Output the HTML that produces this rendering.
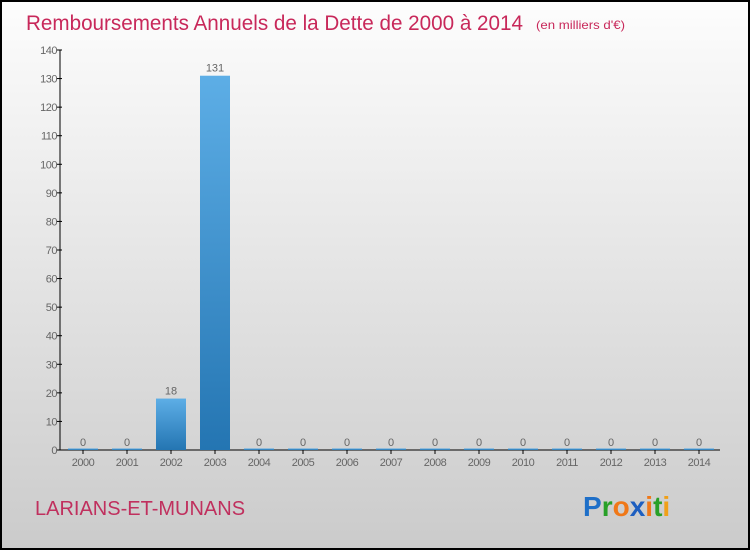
<!DOCTYPE html>
<html><head><meta charset="utf-8">
<style>
html,body{margin:0;padding:0;}
body{width:750px;height:550px;overflow:hidden;font-family:"Liberation Sans",sans-serif;}
</style></head>
<body>
<svg id="chart" width="750" height="550" xmlns="http://www.w3.org/2000/svg">
<defs>
<linearGradient id="bg" x1="0" y1="0" x2="0" y2="1">
<stop offset="0" stop-color="#fdfdfd"/><stop offset="1" stop-color="#cbcbcb"/>
</linearGradient>
<linearGradient id="bar" x1="0" y1="0" x2="0" y2="1">
<stop offset="0" stop-color="#5daee6"/><stop offset="1" stop-color="#2475b2"/>
</linearGradient>
</defs>
<rect x="1" y="1" width="748" height="548" fill="url(#bg)" stroke="#000" stroke-width="2"/>
<text x="26" y="30" font-size="21" fill="#c8285a" textLength="497" lengthAdjust="spacingAndGlyphs">Remboursements Annuels de la Dette de 2000 à 2014</text>
<text x="536" y="29" font-size="12" fill="#c8285a" textLength="89" lengthAdjust="spacingAndGlyphs">(en milliers d'€)</text>
<text x="35" y="515" font-size="20" fill="#c0305e">LARIANS-ET-MUNANS</text>
<text x="583" y="516" font-size="28" font-weight="bold"><tspan fill="#1e6fc8">P</tspan><tspan fill="#28a028">r</tspan><tspan fill="#f07818">o</tspan><tspan fill="#1e5fc0">x</tspan><tspan fill="#f07818">i</tspan><tspan fill="#28a028">t</tspan><tspan fill="#f0a018">i</tspan></text>
<g id="plot"></g>
</svg>
<script>
const categories=["2000","2001","2002","2003","2004","2005","2006","2007","2008","2009","2010","2011","2012","2013","2014"];
const values=[0,0,18,131,0,0,0,0,0,0,0,0,0,0,0];
const yTicks=[0,10,20,30,40,50,60,70,80,90,100,110,120,130,140];
const NS="http://www.w3.org/2000/svg";
const g=document.getElementById('plot');
function y(v){return 450-v*400/140;}
function x(i){return 83+i*44;}
function mk(tag,attrs,txt){const e=document.createElementNS(NS,tag);for(const k in attrs)e.setAttribute(k,attrs[k]);if(txt!==undefined)e.textContent=txt;g.appendChild(e);return e;}
let ax=mk('line',{x1:60,y1:450,x2:720,y2:450,stroke:'#000','stroke-width':1});


let ay=mk('line',{x1:60,y1:50,x2:60,y2:450,stroke:'#000','stroke-width':1});


yTicks.forEach(t=>{
 let tk=mk('line',{x1:57,y1:y(t),x2:62,y2:y(t),stroke:'#000'});
 
 
 let lb=mk('text',{x:57,y:y(t)+4,'font-size':11,fill:'#666','text-anchor':'end','letter-spacing':'-0.5'},String(t));
 
 
});
categories.forEach((c,i)=>{
 const v=values[i];
 const h=Math.max(y(0)-y(v),1.5);
 let b=mk('rect',{x:x(i)-15,y:y(0)-h,width:30,height:h,fill:'url(#bar)'});
 
 
 let vl=mk('text',{x:x(i),y:y(v)-4,'font-size':11,fill:'#666','text-anchor':'middle'},String(v));
 
 
 let tk=mk('line',{x1:x(i),y1:450,x2:x(i),y2:454,stroke:'#000'});
 
 
 let cl=mk('text',{x:x(i),y:466,'font-size':11,fill:'#666','text-anchor':'middle','letter-spacing':'-0.5'},c);
 
 
});
</script>
</body></html>
